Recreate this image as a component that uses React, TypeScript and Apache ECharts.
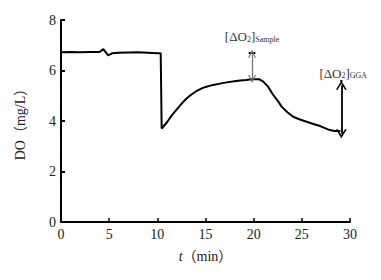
import React, { useEffect, useRef } from "react";
import * as echarts from "echarts";

const times = [0, 1, 2, 3, 4, 4.4, 4.7, 4.9, 5.3, 6, 7, 8, 9, 10, 10.35, 10.45, 11, 11.5, 12, 12.5, 13, 13.5, 14, 14.5, 15, 15.8, 16.5, 17.2, 18, 18.6, 19.2, 19.8, 20.6, 21, 21.5, 22, 22.5, 22.9, 23.5, 24.1, 24.8, 25.5, 26.2, 26.9, 27.4, 27.9, 28.4, 29];
const doValues = [6.72, 6.73, 6.72, 6.73, 6.73, 6.85, 6.7, 6.6, 6.68, 6.7, 6.71, 6.72, 6.7, 6.68, 6.68, 3.7, 3.95, 4.22, 4.45, 4.68, 4.88, 5.04, 5.17, 5.27, 5.35, 5.43, 5.48, 5.53, 5.57, 5.6, 5.62, 5.65, 5.65, 5.56, 5.36, 5.05, 4.8, 4.57, 4.35, 4.17, 4.06, 3.97, 3.88, 3.8, 3.72, 3.64, 3.6, 3.6];

const sampleArrow = { t: 19.83, top: 6.72, bottom: 5.66 };
const ggaArrow = { t: 29.1, level: 5.6, top: 5.42, bottom: 3.5 };
const labelSample = { t: 19.83, y: 7.33, sub: "Sample" };
const labelGGA = { t: 29.3, y: 5.9, sub: "GGA" };

const FONT = "'Liberation Serif', 'Noto Sans CJK SC', serif";
const CHEVRON = "path://M0,10 L5,0 L10,10 L8.4,10 L5,3.4 L1.6,10 Z";

export default function App() {
  const ref = useRef<HTMLDivElement>(null);
  useEffect(() => {
    if (!ref.current) return;
    const chart = echarts.init(ref.current, undefined, { renderer: "svg" });
    const barStyle = { color: "#111", width: 2, type: "solid" };
    const greyStyle = { color: "#777", width: 1.3, type: "solid" };
    const blackStyle = { color: "#000", width: 1.8, type: "solid" };
    chart.setOption({
      animation: false,
      grid: { left: 61, right: 31, top: 20, bottom: 58, containLabel: false },
      xAxis: {
        type: "value",
        min: 0,
        max: 30,
        interval: 5,
        name: "{i|t}{n|（min）}",
        nameLocation: "middle",
        nameGap: 27,
        nameTextStyle: {
          rich: {
            i: { fontFamily: FONT, fontStyle: "italic", fontSize: 14, color: "#222" },
            n: { fontFamily: FONT, fontSize: 14, color: "#222" },
          },
        },
        axisLine: { lineStyle: { color: "#000", width: 2 } },
        axisTick: { inside: true, length: 4, lineStyle: { color: "#000", width: 1.5 } },
        axisLabel: { fontFamily: FONT, fontSize: 14, color: "#222", margin: 5 },
        splitLine: { show: false },
      },
      yAxis: {
        type: "value",
        min: 0,
        max: 8,
        interval: 2,
        name: "DO（mg/L）",
        nameLocation: "middle",
        nameGap: 34,
        nameTextStyle: { fontFamily: FONT, fontSize: 14, color: "#222" },
        axisLine: { lineStyle: { color: "#000", width: 2 } },
        axisTick: { inside: true, length: 4, lineStyle: { color: "#000", width: 2 } },
        axisLabel: { fontFamily: FONT, fontSize: 14, color: "#222", margin: 5 },
        splitLine: { show: false },
      },
      series: [
        {
          type: "line",
          data: times.map((t, i) => [t, doValues[i]]),
          showSymbol: false,
          symbol: "none",
          lineStyle: { color: "#000", width: 2 },
          silent: true,
          markLine: {
            silent: true,
            animation: false,
            label: { show: false },
            emphasis: { disabled: true },
            symbolSize: [8, 8],
            data: [
              [
                { coord: [sampleArrow.t - 0.35, sampleArrow.top], symbol: "none", lineStyle: barStyle },
                { coord: [sampleArrow.t + 0.35, sampleArrow.top], symbol: "none", lineStyle: barStyle },
              ],
              [
                { coord: [sampleArrow.t, sampleArrow.top - 0.06], symbol: CHEVRON, lineStyle: greyStyle },
                { coord: [sampleArrow.t, sampleArrow.bottom], symbol: CHEVRON, lineStyle: greyStyle },
              ],
              [
                { coord: [ggaArrow.t - 0.12, ggaArrow.level], symbol: "none", lineStyle: barStyle },
                { coord: [ggaArrow.t + 0.12, ggaArrow.level], symbol: "none", lineStyle: barStyle },
              ],
              [
                { coord: [ggaArrow.t, ggaArrow.top], symbol: CHEVRON, symbolSize: [11, 9], lineStyle: blackStyle },
                { coord: [ggaArrow.t, ggaArrow.bottom], symbol: CHEVRON, symbolSize: [11, 9], lineStyle: blackStyle },
              ],
            ],
          },
        },
      ],
    });
    const makeLabel = (lab: { t: number; y: number; sub: string }) => {
      const p = chart.convertToPixel({ gridIndex: 0 }, [lab.t, lab.y]) as number[];
      return {
        type: "text",
        x: p[0],
        y: p[1],
        silent: true,
        style: {
          text: `{a|[ΔO}{s|2}{a|]}{s|${lab.sub}}`,
          align: "center",
          verticalAlign: "middle",
          rich: {
            a: { fontFamily: FONT, fontSize: 13, fill: "#333" },
            s: { fontFamily: FONT, fontSize: 8, fill: "#333", verticalAlign: "bottom" },
          },
        },
      };
    };
    chart.setOption({ graphic: [makeLabel(labelSample), makeLabel(labelGGA)] });
    return () => chart.dispose();
  }, []);
  return <div ref={ref} style={{ position: "fixed", left: 0, top: 0, width: 381, height: 280, background: "#fff" }} />;
}
